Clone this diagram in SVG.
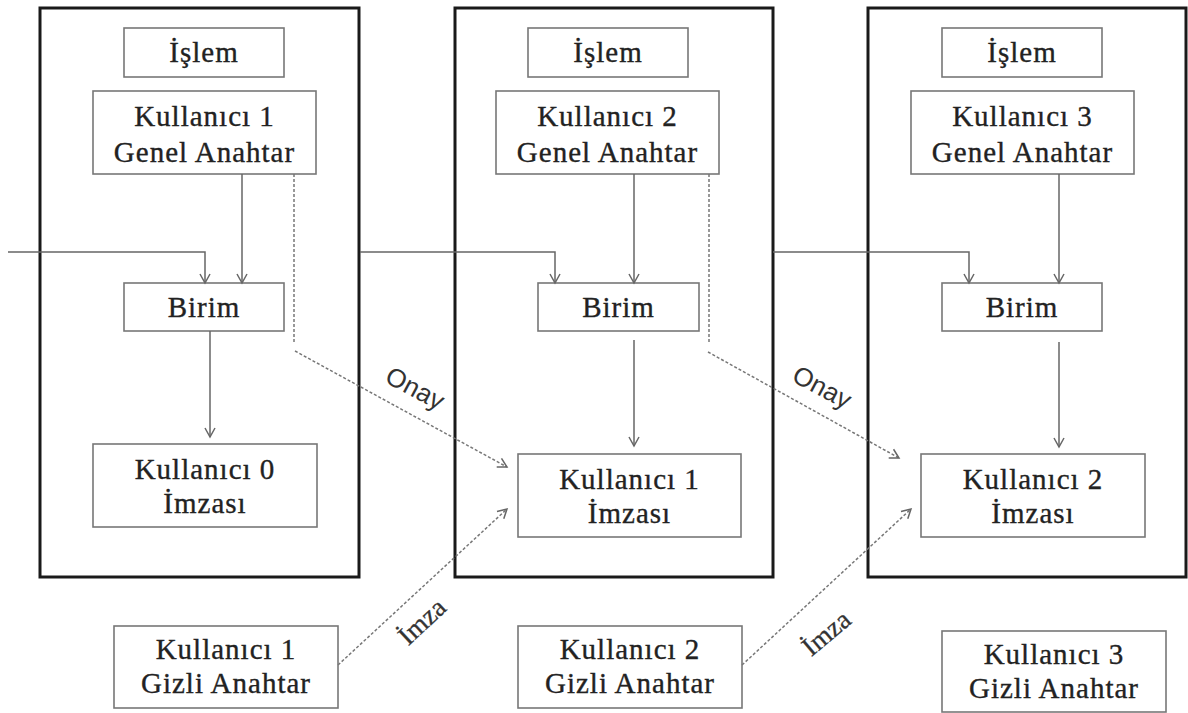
<svg xmlns="http://www.w3.org/2000/svg" width="1188" height="713" viewBox="0 0 1188 713">
<defs>
<marker id="ah" viewBox="-10 -10 20 20" refX="0" refY="0" markerWidth="20" markerHeight="20" markerUnits="userSpaceOnUse" orient="auto" overflow="visible">
<path d="M-9,-5 L0,0 L-9,5" fill="none" stroke="#666" stroke-width="1.5"/>
</marker>
<style>
.big{fill:none;stroke:#1a1a1a;stroke-width:3}
.box{fill:#fff;stroke:#777;stroke-width:1.6}
.t{font-family:"Liberation Serif","Times New Roman",serif;font-size:29px;letter-spacing:1px;fill:#222;stroke:#222;stroke-width:0.35;text-anchor:middle}
.lab{font-family:"Liberation Sans",Arial,sans-serif;font-size:26px;fill:#333;text-anchor:middle}
.labs{font-family:"Liberation Serif","Times New Roman",serif;font-size:27px;fill:#333;stroke:#333;stroke-width:0.3;text-anchor:middle}
.ln{fill:none;stroke:#666;stroke-width:1.5}
.dot{fill:none;stroke:#777;stroke-width:1.5;stroke-dasharray:3 2}
</style>
</defs>
<rect width="1188" height="713" fill="#fff"/>
<g id="container1"><rect class="big" x="40" y="8" width="319" height="569"/></g>
<g id="container2"><rect class="big" x="455" y="8" width="318" height="569"/></g>
<g id="container3"><rect class="big" x="868" y="8" width="318" height="569"/></g>

<g id="islem1"><rect class="box" x="124" y="28" width="160" height="49"/><text class="t" x="204" y="62">İşlem</text></g>
<g id="genel1"><rect class="box" x="93" y="91" width="223" height="83"/><text class="t" x="204.5" y="126">Kullanıcı 1</text><text class="t" x="204.5" y="162">Genel Anahtar</text></g>
<g id="birim1"><rect class="box" x="124" y="283" width="160" height="48"/><text class="t" x="204" y="317">Birim</text></g>
<g id="imza0"><rect class="box" x="93" y="444" width="224" height="83"/><text class="t" x="205" y="479">Kullanıcı 0</text><text class="t" x="205" y="513">İmzası</text></g>

<g id="islem2"><rect class="box" x="528" y="28" width="160" height="49"/><text class="t" x="608" y="62">İşlem</text></g>
<g id="genel2"><rect class="box" x="496" y="91" width="223" height="83"/><text class="t" x="607.5" y="126">Kullanıcı 2</text><text class="t" x="607.5" y="162">Genel Anahtar</text></g>
<g id="birim2"><rect class="box" x="538" y="283" width="161" height="48"/><text class="t" x="618.5" y="317">Birim</text></g>
<g id="imza1"><rect class="box" x="518" y="454" width="223" height="83"/><text class="t" x="629.5" y="489">Kullanıcı 1</text><text class="t" x="629.5" y="523">İmzası</text></g>

<g id="islem3"><rect class="box" x="942" y="28" width="160" height="49"/><text class="t" x="1022" y="62">İşlem</text></g>
<g id="genel3"><rect class="box" x="911" y="91" width="223" height="83"/><text class="t" x="1022.5" y="126">Kullanıcı 3</text><text class="t" x="1022.5" y="162">Genel Anahtar</text></g>
<g id="birim3"><rect class="box" x="942" y="283" width="160" height="48"/><text class="t" x="1022" y="317">Birim</text></g>
<g id="imza2"><rect class="box" x="921" y="454" width="224" height="83"/><text class="t" x="1033" y="489">Kullanıcı 2</text><text class="t" x="1033" y="523">İmzası</text></g>

<g id="gizli1"><rect class="box" x="114" y="626" width="224" height="82"/><text class="t" x="226" y="659">Kullanıcı 1</text><text class="t" x="226" y="693">Gizli Anahtar</text></g>
<g id="gizli2"><rect class="box" x="518" y="626" width="224" height="82"/><text class="t" x="630" y="659">Kullanıcı 2</text><text class="t" x="630" y="693">Gizli Anahtar</text></g>
<g id="gizli3"><rect class="box" x="942" y="631" width="224" height="81"/><text class="t" x="1054" y="664">Kullanıcı 3</text><text class="t" x="1054" y="698">Gizli Anahtar</text></g>

<g id="connectors">
<path class="ln" d="M8,252 H205 V283" marker-end="url(#ah)"/>
<path class="ln" d="M360,252 H555 V283" marker-end="url(#ah)"/>
<path class="ln" d="M773,252 H969 V283" marker-end="url(#ah)"/>
<path class="ln" d="M242,174 V283" marker-end="url(#ah)"/>
<path class="ln" d="M634,174 V283" marker-end="url(#ah)"/>
<path class="ln" d="M1059,174 V283" marker-end="url(#ah)"/>
<path class="ln" d="M210,331 V437" marker-end="url(#ah)"/>
<path class="ln" d="M634,340 V446" marker-end="url(#ah)"/>
<path class="ln" d="M1059,342 V447" marker-end="url(#ah)"/>
<path class="dot" d="M294,174 V342"/>
<path class="dot" d="M295,351 L507,467" marker-end="url(#ah)"/>
<path class="dot" d="M709,174 V342"/>
<path class="dot" d="M708,352 L899,458" marker-end="url(#ah)"/>
<path class="dot" d="M338,665 L507,509" marker-end="url(#ah)"/>
<path class="dot" d="M742,665 L911,509" marker-end="url(#ah)"/>
<text class="lab" transform="translate(411,396) rotate(28)">Onay</text>
<text class="lab" transform="translate(818,395) rotate(28)">Onay</text>
<text class="labs" transform="translate(428,628) rotate(-43)">İmza</text>
<text class="labs" transform="translate(832,640) rotate(-40)">İmza</text>
</g>
</svg>
